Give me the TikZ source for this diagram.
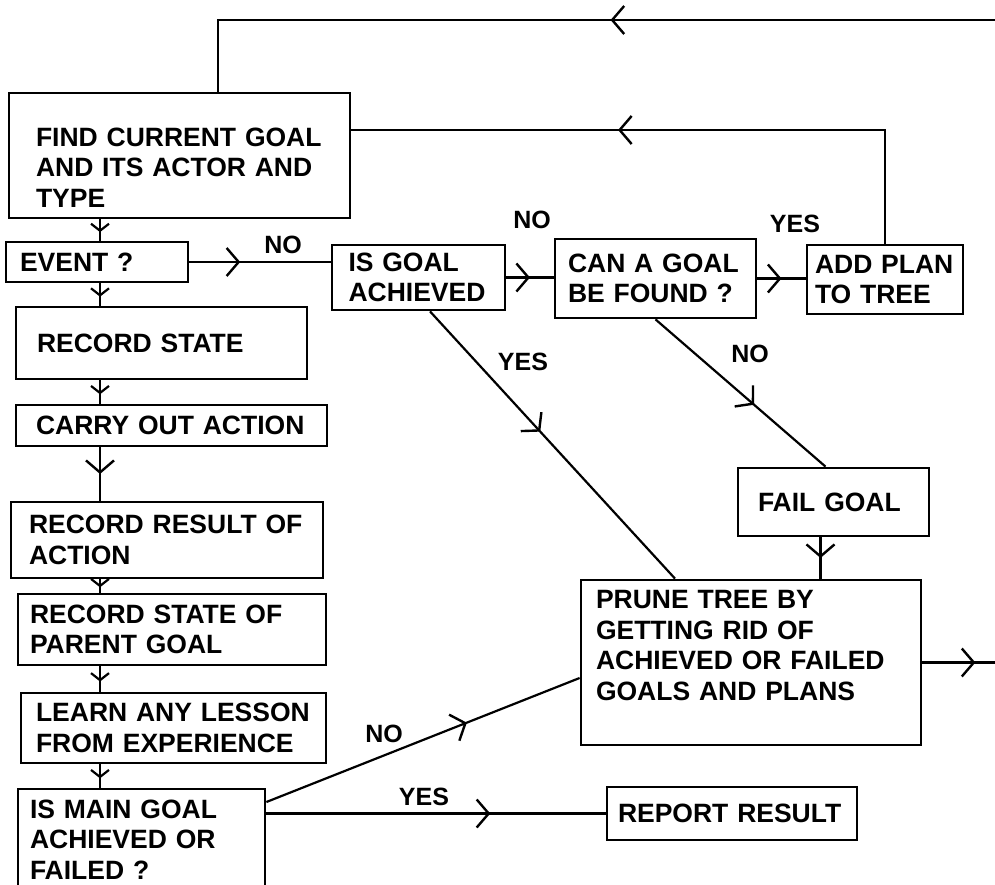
\documentclass[tikz,border=0pt]{standalone}
\usepackage{fontspec}
\setmainfont{Liberation Sans}
\usetikzlibrary{arrows.meta, decorations.markings}

\begin{document}
\begin{tikzpicture}[x=1pt, y=-1pt,
		box/.style={draw, line width=2.8pt, align=left, inner ysep=0pt, font={\fontsize{26.5}{30.5}\selectfont\bfseries}},
		lbl/.style={font={\fontsize{25}{28}\selectfont\bfseries}, inner sep=0pt},
		link/.style={line width=2.2pt},
		arrowat/.style={postaction={decorate, decoration={markings, mark=at position #1 with {\arrow{Straight Barb[length=12pt, width=28pt, line width=2.4pt]}}}}},
		arrowsm/.style={postaction={decorate, decoration={markings, mark=at position #1 with {\arrow{Straight Barb[length=7pt, width=18pt, line width=2.2pt]}}}}}]
		\useasboundingbox (0,0) rectangle (995,885);
		\clip (0,0) rectangle (995,885);
		\node[box, minimum width=341, minimum height=125, inner xsep=27, text width=287] (find) at (179.5,155.5) {\rule{0pt}{43pt}FIND CURRENT GOAL\\AND ITS ACTOR AND\\TYPE};
		\node[box, minimum width=182, minimum height=40, inner xsep=14, text width=154] (event) at (97,262) {EVENT ?};
		\node[box, minimum width=173, minimum height=65, inner xsep=16.5, text width=140] (isgoal) at (418.5,277.5) {IS GOAL\\ACHIEVED};
		\node[box, minimum width=201, minimum height=79, inner xsep=13, text width=175] (can) at (655.5,278.5) {CAN A GOAL\\BE FOUND ?};
		\node[box, minimum width=156, minimum height=69, inner xsep=8, text width=140] (add) at (885,279.5) {ADD PLAN\\TO TREE};
		\node[box, minimum width=291, minimum height=72, inner xsep=21, text width=249] (rstate) at (161.5,343) {RECORD STATE};
		\node[box, minimum width=311, minimum height=41, inner xsep=20, text width=271] (carry) at (171.5,425.5) {CARRY OUT ACTION};
		\node[box, minimum width=312, minimum height=76, inner xsep=18, text width=276] (result) at (167,540) {RECORD RESULT OF\\ACTION};
		\node[box, minimum width=308, minimum height=71, inner xsep=12, text width=284] (parent) at (172,629.5) {RECORD STATE OF\\PARENT GOAL};
		\node[box, minimum width=305, minimum height=70, inner xsep=15, text width=275] (learn) at (173.5,728) {LEARN ANY LESSON\\FROM EXPERIENCE};
		\node[box, minimum width=247, minimum height=101, inner xsep=12, text width=223] (ismain) at (141.5,839.5) {IS MAIN GOAL\\ACHIEVED OR\\FAILED ?};
		\node[box, minimum width=191, minimum height=68, inner xsep=20, text width=151] (fail) at (833.5,502) {FAIL GOAL};
		\node[box, minimum width=340, minimum height=165, inner xsep=15, text width=310] (prune) at (751,662.5) {PRUNE TREE BY\\GETTING RID OF\\ACHIEVED OR FAILED\\GOALS AND PLANS\rule[-34pt]{0pt}{34pt}};
		\node[box, minimum width=250, minimum height=53, inner xsep=11, text width=228] (report) at (732,813.5) {REPORT RESULT};
		\coordinate (topR) at (995,20);
		\coordinate (topL) at (218,20);
		\coordinate (loopB) at (890,130);
		\coordinate (spine) at (100,0);
		\coordinate (outR) at (995,0);
		\draw[link, arrowat=0.453] (topR) -- (topL) -- (topL |- find.north);
		\draw[link, arrowat=0.588] (add.north) -- (add.north |- loopB) -- (find.east |- loopB);
		\draw[link, arrowsm=0.6] (find.south -| spine) -- (event.north -| spine);
		\draw[link, arrowsm=0.6] (event.south -| spine) -- (rstate.north -| spine);
		\draw[link, arrowsm=0.6] (rstate.south -| spine) -- (carry.north -| spine);
		\draw[link, arrowat=0.5] (carry.south -| spine) -- (result.north -| spine);
		\draw[link, arrowsm=0.6] (result.south -| spine) -- (parent.north -| spine);
		\draw[link, arrowsm=0.6] (parent.south -| spine) -- (learn.north -| spine);
		\draw[link, arrowsm=0.6] (learn.south -| spine) -- (ismain.north -| spine);
		\draw[link, arrowat=0.36] (event.east) -- (event.east -| isgoal.west);
		\node[lbl] (noevent) at (283,245) {NO};
		\draw[link, arrowat=0.5] (isgoal.east) -- (isgoal.east -| can.west);
		\node[lbl] (noachieved) at (532,220) {NO};
		\draw[link, arrowat=0.5] (can.east) -- (can.east -| add.west);
		\node[lbl] (yesfound) at (795,224) {YES};
		\draw[link, arrowat=0.45] ([xshift=11.5]isgoal.south) -- ([xshift=-76]prune.north);
		\node[lbl] (yesachieved) at (523,362) {YES};
		\draw[link, arrowat=0.58] (can.south) -- ([xshift=-8]fail.north);
		\node[lbl] (nofound) at (750,354) {NO};
		\draw[link, arrowat=0.5] ([xshift=-13]fail.south) -- ([xshift=-13]fail.south |- prune.north);
		\draw[link, arrowat=0.64] ([yshift=37.5]ismain.east) -- ([yshift=-15.5]prune.west);
		\node[lbl] (nomain) at (384,734) {NO};
		\draw[link, arrowat=0.66] (report.west -| ismain.east) -- (report.west);
		\node[lbl] (yesmain) at (424,797) {YES};
		\draw[link, arrowat=0.73] (prune.east) -- (prune.east -| outR);
		\end{tikzpicture}
\end{document}
